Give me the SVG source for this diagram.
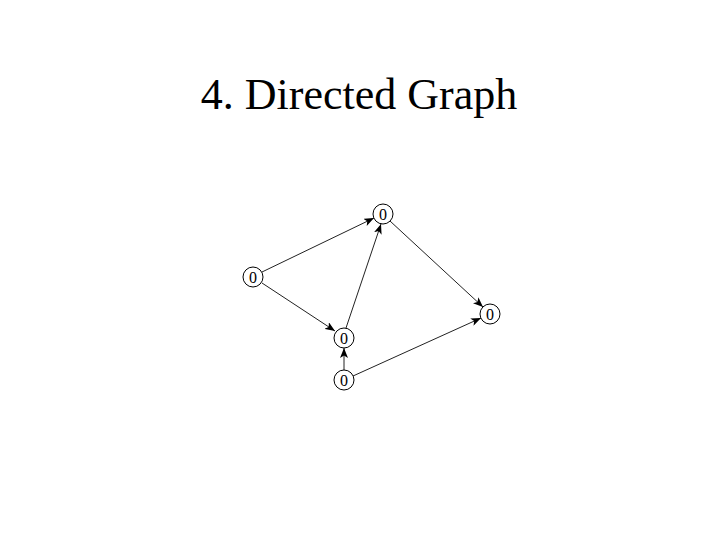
<svg xmlns="http://www.w3.org/2000/svg" width="720" height="540" viewBox="0 0 720 540">
<style>
.title{font-family:"Liberation Serif","Times New Roman",serif;font-size:44px;fill:#000}
.node circle{fill:#fff;stroke:#000;stroke-width:1}
.node text{font-family:"Liberation Serif","Times New Roman",serif;font-size:16px;fill:#000;text-anchor:middle}
.edges line{stroke:#222;stroke-width:1}
</style>
<defs>
<marker id="arr" viewBox="0 0 10 8" refX="10" refY="4" markerWidth="10" markerHeight="8" markerUnits="userSpaceOnUse" orient="auto">
<path d="M0,0 L10,4 L0,8 L2.5,4 Z" fill="#000"/>
</marker>
</defs>
<rect width="720" height="540" fill="#fff"/>
<text class="title" x="359" y="109" text-anchor="middle">4. Directed Graph</text>
<g class="edges">
<line x1="262" y1="272" x2="374" y2="218" marker-end="url(#arr)"/>
<line x1="262" y1="283" x2="335" y2="331" marker-end="url(#arr)"/>
<line x1="346" y1="328" x2="381" y2="224" marker-end="url(#arr)"/>
<line x1="390" y1="221" x2="483" y2="307" marker-end="url(#arr)"/>
<line x1="344" y1="370" x2="344" y2="348" marker-end="url(#arr)"/>
<line x1="353" y1="376" x2="481" y2="318" marker-end="url(#arr)"/>
</g>
<g id="n_top" class="node"><circle cx="383" cy="214" r="10"/><text x="383" y="219.5">0</text></g>
<g id="n_left" class="node"><circle cx="253" cy="277" r="10"/><text x="253" y="282.5">0</text></g>
<g id="n_mid" class="node"><circle cx="344" cy="338" r="10"/><text x="344" y="343.5">0</text></g>
<g id="n_bottom" class="node"><circle cx="344" cy="380" r="10"/><text x="344" y="385.5">0</text></g>
<g id="n_right" class="node"><circle cx="490" cy="314" r="10"/><text x="490" y="319.5">0</text></g>
</svg>
